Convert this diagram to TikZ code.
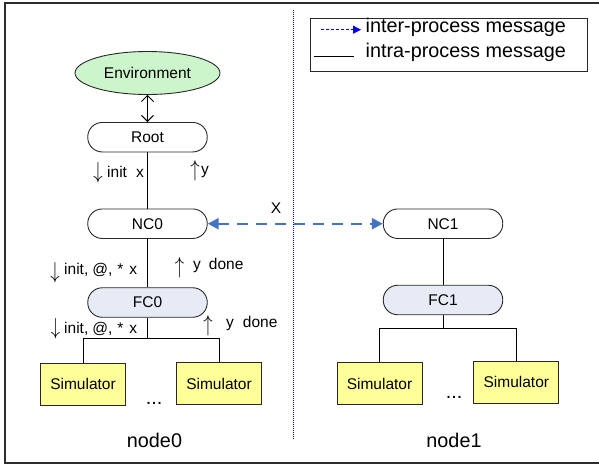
\documentclass[tikz,border=0pt]{standalone}
\usepackage{fontspec}
\setmainfont{Liberation Sans}
\usetikzlibrary{arrows.meta,shapes.geometric}
\definecolor{envgreen}{RGB}{204,245,204}
\definecolor{fcblue}{RGB}{230,235,246}
\definecolor{simyellow}{RGB}{255,255,153}
\definecolor{linkblue}{RGB}{68,114,196}
\definecolor{framegray}{RGB}{45,45,45}
\definecolor{edgegray}{RGB}{40,40,40}
\tikzset{
  pill/.style={draw=edgegray, line width=0.9pt, rounded corners=14.5pt, minimum width=119.5pt, minimum height=29.5pt, inner sep=0pt, font=\fontsize{15.5}{18}\selectfont},
  simbox/.style={draw=edgegray, line width=0.9pt, fill=simyellow, minimum width=85pt, minimum height=42pt, inner sep=0pt, font=\fontsize{15.5}{18}\selectfont},
  envnode/.style={ellipse, draw=edgegray, line width=0.9pt, fill=envgreen, minimum width=145pt, minimum height=43pt, inner sep=0pt, font=\fontsize{15.5}{18}\selectfont},
  lbl/.style={anchor=west, inner sep=0pt, font=\fontsize{15.5}{18}\selectfont},
  arr/.style={anchor=center, inner sep=0pt, font=\fontsize{15}{18}\selectfont},
  big/.style={inner sep=0pt, font=\fontsize{19.8}{22}\selectfont},
  wire/.style={draw=black, line width=0.9pt},
}
\newcommand\tallarrow[1]{\scalebox{1.3}[1.6]{$#1$}}
\begin{document}
\begin{tikzpicture}[x=1pt,y=-1pt]
\useasboundingbox (0,0) rectangle (599,466);
% frame
\draw[framegray, line width=2pt] (599,3) -- (5,3) -- (5,463) -- (599,463);
% divider
\draw[blue, line width=0.6pt, dash pattern=on 1pt off 1pt] (293.3,10) -- (293.3,440);

% legend
\node[draw=edgegray, line width=0.9pt, minimum width=277pt, minimum height=52.7pt, anchor=north west, inner sep=0pt] (legend) at (309.7,18.3) {};
\coordinate (la1) at (320.7,29.7);
\coordinate (lb1) at (361,29.7);
\coordinate (la2) at (314.3,56);
\coordinate (lb2) at (354,56);
\draw[blue, line width=0.8pt, dash pattern=on 3pt off 2pt, -{Triangle[length=8pt,width=8pt]}] (la1) -- (lb1);
\draw[black, line width=0.9pt] (la2) -- (lb2);
\node[big, anchor=west] (lt1) at (365.5,27.5) {inter-process message};
\node[big, anchor=west] (lt2) at (365.5,52) {intra-process message};

% left process
\node[envnode] (env) at (147.5,73) {Environment};
\node[pill] (root) at (147.5,137.2) {Root};
\node[pill] (nc0) at (147.5,223.7) {NC0};
\node[pill, fill=fcblue] (fc0) at (147.5,302.5) {FC0};
\node[simbox] (s1) at (83,384.3) {Simulator};
\node[simbox] (s2) at (219,383.5) {Simulator};
\coordinate (j0) at (147.5,338);

\draw[wire, {Straight Barb[length=6pt,width=12pt]}-{Straight Barb[length=6pt,width=12pt]}] (env) -- (root);
\draw[wire] (root) -- (nc0);
\draw[wire] (nc0) -- (fc0);
\draw[wire] (fc0) -- (j0);
\draw[wire] (j0) -| (s1.north);
\draw[wire] (j0) -| (s2.north);

% labels left
\node[arr] (a1) at (98,172.5) {\tallarrow{\downarrow}};
\node[lbl] (l1) at (107,172) {init\hspace{9pt}x};
\node[arr] (a2) at (195,170.5) {\tallarrow{\uparrow}};
\node[lbl] (l2) at (201,172) {y};
\node[arr] (a3) at (55,273) {\tallarrow{\downarrow}};
\node[lbl] (l3) at (64,270) {init,\hspace{4pt}@,\hspace{5pt}*\hspace{6pt}x};
\node[arr] (a4) at (179.5,267.5) {\tallarrow{\uparrow}};
\node[lbl] (l4) at (193,265) {y\hspace{8pt}done};
\node[arr] (a5) at (55.5,329) {\tallarrow{\downarrow}};
\node[lbl] (l5) at (64,328.5) {init,\hspace{4pt}@,\hspace{5pt}*\hspace{6pt}x};
\node[arr] (a6) at (208,326) {\tallarrow{\uparrow}};
\node[lbl] (l6) at (226,323) {y\hspace{9pt}done};
\node[big] (dots0) at (154,403) {...};
\node[big] (n0) at (154.5,440) {node0};

% right process
\node[pill] (nc1) at (443,223.7) {NC1};
\node[pill, fill=fcblue] (fc1) at (443,300) {FC1};
\node[simbox] (s3) at (379.5,383.7) {Simulator};
\node[simbox] (s4) at (516.3,382.3) {Simulator};
\coordinate (j1) at (443,328.7);
\draw[wire] (nc1) -- (fc1);
\draw[wire] (fc1) -- (j1);
\draw[wire] (j1) -| (s3.north);
\draw[wire] (j1) -| (s4.north);
\node[big] (dots1) at (454,397.5) {...};
\node[big] (n1) at (454,440) {node1};

% inter-process link
\draw[linkblue, line width=2.3pt, dash pattern=on 11pt off 8pt, {Triangle[length=11pt,width=11pt]}-{Triangle[length=11pt,width=11pt]}] (nc0) -- (nc1);
\node[lbl, anchor=center, font=\fontsize{15.5}{18}\selectfont] (xl) at (276,208) {X};
\end{tikzpicture}
\end{document}
